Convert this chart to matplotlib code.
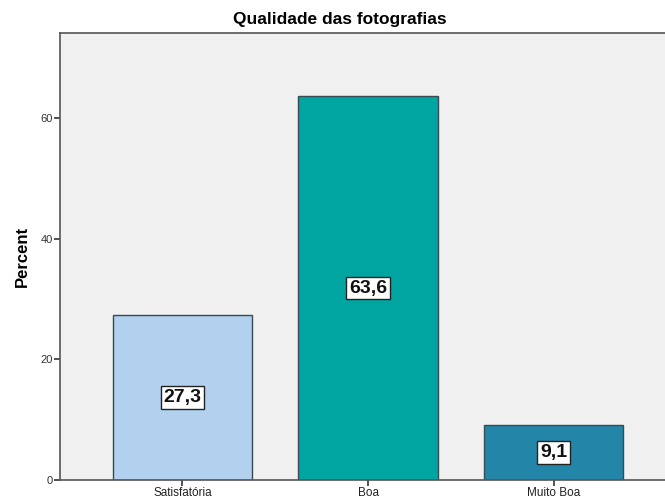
import matplotlib.pyplot as plt

categories = ["Satisfatória", "Boa", "Muito Boa"]
percent = [27.3, 63.6, 9.1]
bar_colors = ["#b1d1ee", "#00a5a1", "#2386a8"]

fig = plt.figure(figsize=(6.65, 5.03), dpi=100)
ax = fig.add_axes([0.0902, 0.0457, 0.9098, 0.888])
ax.set_facecolor("#f0f0f0")

x = list(range(len(categories)))
bars = ax.bar(x, percent, width=0.75, color=bar_colors, edgecolor="#3a4a52", linewidth=1.0, zorder=2)

# value labels in white boxes at the middle of each bar
for xi, v in zip(x, percent):
    ax.text(xi, v / 2, f"{v:.1f}".replace(".", ","), ha="center", va="center",
            fontsize=14, fontweight="bold", family="Liberation Sans", color="#111111",
            bbox=dict(boxstyle="square,pad=0.15", facecolor="white", edgecolor="#222222", linewidth=1.0),
            zorder=3)

ax.set_xlim(-0.66, 2.6)
ax.set_ylim(0, 74)
ax.set_yticks([0, 20, 40, 60])
ax.set_xticks(x)
ax.set_xticklabels(categories, family="Liberation Sans", fontsize=8.5, color="#222222")
for lbl in ax.get_yticklabels():
    lbl.set_family("Liberation Sans")
    lbl.set_fontsize(8)
    lbl.set_color("#333333")
ax.tick_params(axis="both", direction="out", length=4, width=1.2, color="#333333", pad=1)

for side in ["left", "bottom", "top"]:
    ax.spines[side].set_color("#555555")
    ax.spines[side].set_linewidth(1.2)
ax.spines["right"].set_visible(False)

ax.set_ylabel("Percent", family="Liberation Sans", fontsize=12, fontweight="bold", labelpad=8)
fig.text(0.511, 0.962, "Qualidade das fotografias", ha="center", va="center",
         family="Liberation Sans", fontsize=12.5, fontweight="bold")

fig.savefig("out.png", dpi=100, facecolor="white")
